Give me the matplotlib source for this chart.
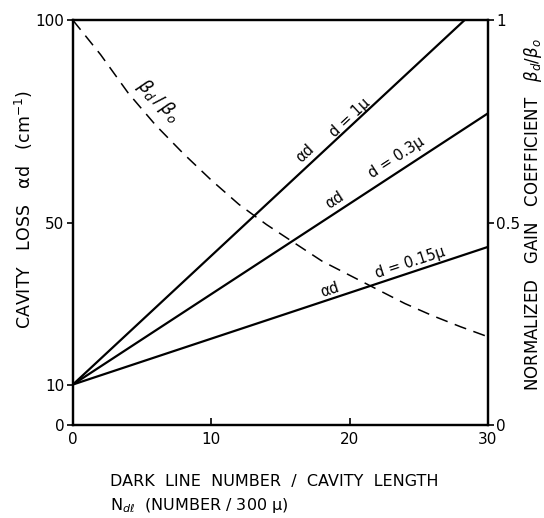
import matplotlib
matplotlib.use("Agg")
import matplotlib.pyplot as plt

# cavity loss lines (x = dark line number, y = loss in cm^-1)
x_1um = [0, 28.3]
loss_1um = [10, 100]
x_03um = [0, 30]
loss_03um = [10, 77]
x_015um = [0, 30]
loss_015um = [10, 44]

# normalized gain coefficient (dashed)
x_gain = [0, 2, 4, 6, 8, 10, 12, 14, 16, 18, 20, 22, 24, 26, 28, 30]
gain = [1.0, 0.915, 0.82, 0.74, 0.67, 0.605, 0.545, 0.495, 0.45,
        0.405, 0.37, 0.335, 0.30, 0.27, 0.243, 0.218]

left_ticks = [0, 10, 50, 100]
right_ticks = [0, 0.5, 1]
right_labels = ["0", "0.5", "1"]
x_ticks = [0, 10, 20, 30]

fig = plt.figure(figsize=(5.44, 5.18), dpi=100)
ax = fig.add_axes([0.134, 0.1795, 0.763, 0.7815])

lw = 1.6
ax.plot(x_1um, loss_1um, color="black", lw=lw)
ax.plot(x_03um, loss_03um, color="black", lw=lw)
ax.plot(x_015um, loss_015um, color="black", lw=lw)

ax.set_xlim(0, 30)
ax.set_ylim(0, 100)
ax.set_xticks(x_ticks)
ax.set_yticks(left_ticks)
ax.tick_params(axis="x", direction="in", length=5, width=1.2, labelsize=11, pad=5)
ax.tick_params(axis="y", direction="out", length=4, width=1.2, labelsize=11, pad=2)
for s in ax.spines.values():
    s.set_linewidth(1.6)

ax2 = ax.twinx()
ax2.plot(x_gain, gain, color="black", lw=1.1, dashes=(8, 5))
ax2.set_ylim(0, 1)
ax2.set_yticks(right_ticks)
ax2.set_yticklabels(right_labels)
ax2.tick_params(axis="y", direction="out", length=4, width=1.2, labelsize=11, pad=2)
for s in ax2.spines.values():
    s.set_linewidth(1.6)

# inline labels
fs = 10.5
ax.text(16.8, 67.2, "αd", rotation=43, ha="center", va="center", fontsize=fs)
ax.text(20.0, 76.0, "d = 1μ", rotation=43, ha="center", va="center", fontsize=fs)
ax.text(18.9, 55.6, "αd", rotation=33, ha="center", va="center", fontsize=fs)
ax.text(23.4, 66.2, "d = 0.3μ", rotation=33, ha="center", va="center", fontsize=fs)
ax.text(18.6, 33.3, "αd", rotation=18, ha="center", va="center", fontsize=fs)
ax.text(24.4, 40.2, "d = 0.15μ", rotation=18, ha="center", va="center", fontsize=fs)
ax2.text(6.2, 0.80, r"$\beta_d\,/\,\beta_o$", rotation=-45, ha="center", va="center", fontsize=13)

fig.text(24 / 544, 1 - 210 / 518, "CAVITY   LOSS   αd   (cm$^{-1}$)",
         fontsize=12.5, rotation=90, ha="center", va="center")
fig.text(533 / 544, 1 - 215 / 518, r"NORMALIZED   GAIN   COEFFICIENT   $\beta_d/\beta_o$",
         fontsize=12, rotation=90, ha="center", va="center")

fig.text(0.203, 0.07, "DARK  LINE  NUMBER  /  CAVITY  LENGTH", fontsize=11.5, ha="left", va="center")
fig.text(0.203, 0.025, r"N$_{d\ell}$  (NUMBER / 300 μ)", fontsize=11.5, ha="left", va="center")

fig.savefig("out.png", dpi=100)
